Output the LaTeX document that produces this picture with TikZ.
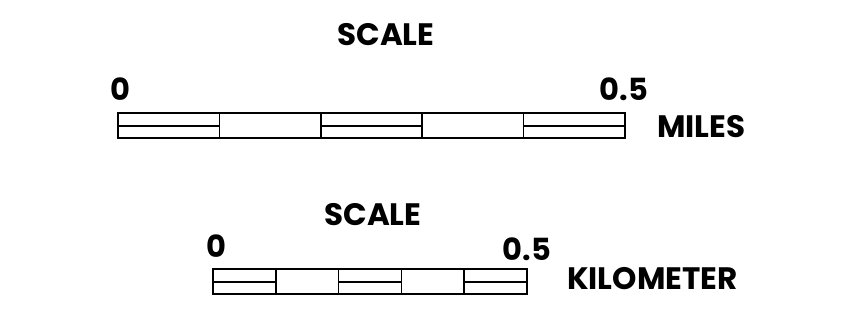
\documentclass[tikz,border=0pt]{standalone}
\usepackage{fontspec}
\setmainfont{Poppins}
\tikzset{
  lbl/.style={inner sep=0pt, font=\fontsize{31}{32}\selectfont\bfseries, text=black},
  num/.style={inner sep=0pt, font=\fontsize{30.5}{32}\selectfont\bfseries, text=black},
  barline/.style={line width=1.5pt, draw=black},
  midline/.style={line width=2pt, draw=black},
}
\begin{document}
\begin{tikzpicture}[x=1pt,y=-1pt]
\useasboundingbox (0,0) rectangle (864,322);
% ---- miles scale ----
\node[lbl, anchor=base] (scaleA) at (386,45) {SCALE};
\node[num, anchor=base] (zeroA) at (120,100) {0};
\node[num, anchor=base] (halfA) at (624,100) {0.5};
\node[lbl, anchor=base west] (miles) at (657,137) {MILES};
\foreach \i in {0,...,4}{
  \pgfmathsetmacro\xa{118+\i*101.4}
  \pgfmathsetmacro\xb{118+(\i+1)*101.4}
  \draw[barline] (\xa,113) rectangle (\xb,138);
}
\foreach \i in {0,2,4}{
  \pgfmathsetmacro\xa{118+\i*101.4}
  \pgfmathsetmacro\xb{118+(\i+1)*101.4}
  \draw[midline] (\xa,125.5) -- (\xb,125.5);
}
% ---- kilometer scale ----
\node[lbl, anchor=base] (scaleB) at (373,225) {SCALE};
\node[num, anchor=base] (zeroB) at (216,257) {0};
\node[num, anchor=base] (halfB) at (527,260) {0.5};
\node[lbl, anchor=base west] (km) at (567,289) {KILOMETER};
\foreach \i in {0,...,4}{
  \pgfmathsetmacro\xa{213+\i*62.8}
  \pgfmathsetmacro\xb{213+(\i+1)*62.8}
  \draw[barline] (\xa,269) rectangle (\xb,294);
}
\foreach \i in {0,2,4}{
  \pgfmathsetmacro\xa{213+\i*62.8}
  \pgfmathsetmacro\xb{213+(\i+1)*62.8}
  \draw[midline] (\xa,281.5) -- (\xb,281.5);
}
\end{tikzpicture}
\end{document}
